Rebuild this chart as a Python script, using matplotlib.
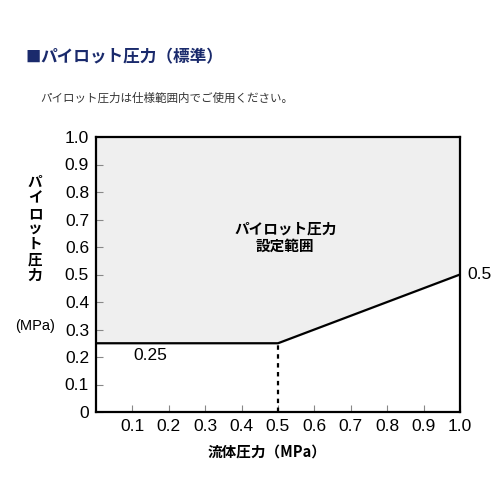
import matplotlib
matplotlib.use("Agg")
import matplotlib.pyplot as plt

plt.rcParams['font.family'] = ['Noto Sans CJK JP', 'DejaVu Sans']

boundary_x = [0.0, 0.5, 1.0]
boundary_y = [0.25, 0.25, 0.5]
x_ticks = [0.1, 0.2, 0.3, 0.4, 0.5, 0.6, 0.7, 0.8, 0.9, 1.0]
x_tick_labels = ["0.1", "0.2", "0.3", "0.4", "0.5", "0.6", "0.7", "0.8", "0.9", "1.0"]
y_ticks = [0, 0.1, 0.2, 0.3, 0.4, 0.5, 0.6, 0.7, 0.8, 0.9, 1.0]
y_tick_labels = ["0", "0.1", "0.2", "0.3", "0.4", "0.5", "0.6", "0.7", "0.8", "0.9", "1.0"]
y_label_chars = list("パイロット圧力")

num_font = ['Liberation Sans', 'DejaVu Sans']

fig = plt.figure(figsize=(5, 5), dpi=100)
ax = fig.add_axes([0.192, 0.176, 0.728, 0.55])

ax.fill_between(boundary_x, boundary_y, 1.0, color='#efefef', zorder=1)
ax.plot(boundary_x, boundary_y, color='black', lw=1.6, zorder=3)
ax.plot([0.5, 0.5], [0, 0.25], color='black', lw=1.6, ls=(0, (2, 2)), zorder=3)

ax.set_xlim(0, 1)
ax.set_ylim(0, 1)
ax.set_xticks(x_ticks)
ax.set_xticklabels(x_tick_labels, family=num_font, fontsize=12.5)
ax.set_yticks(y_ticks)
ax.set_yticklabels(y_tick_labels, family=num_font, fontsize=12.5)
ax.tick_params(direction='in', length=5, width=0.8, color='#888888', pad=5)
for s in ax.spines.values():
    s.set_linewidth(1.6)

ax.text(0.15, 0.205, "0.25", ha='center', va='center', fontsize=12.5, family=num_font)
ax.text(1.02, 0.5, "0.5", ha='left', va='center', fontsize=12.5, family=num_font, clip_on=False)
ax.text(0.52, 0.635, "パイロット圧力\n設定範囲", ha='center', va='center', fontsize=10.5,
        fontweight='bold', linespacing=1.1)

fig.text(0.535, 0.096, "流体圧力（MPa）", ha='center', va='center', fontsize=10.5, fontweight='bold')
for i, ch in enumerate(y_label_chars):
    fig.text(0.07, 0.636 - i * 0.031, ch, ha='center', va='center', fontsize=10.5,
             fontweight='bold')
fig.text(0.07, 0.348, "(MPa)", ha='center', va='center', fontsize=10.5, family=num_font)

fig.text(0.05, 0.885, "■", ha='left', va='center', fontsize=11, color='#1a2a6c')
fig.text(0.08, 0.885, "パイロット圧力（標準）", ha='left', va='center', fontsize=12,
         fontweight='bold', color='#1a2a6c')
fig.text(0.08, 0.803, "パイロット圧力は仕様範囲内でご使用ください。", ha='left', va='center',
         fontsize=8.3, color='#333333')

fig.savefig("out.png", dpi=100)
